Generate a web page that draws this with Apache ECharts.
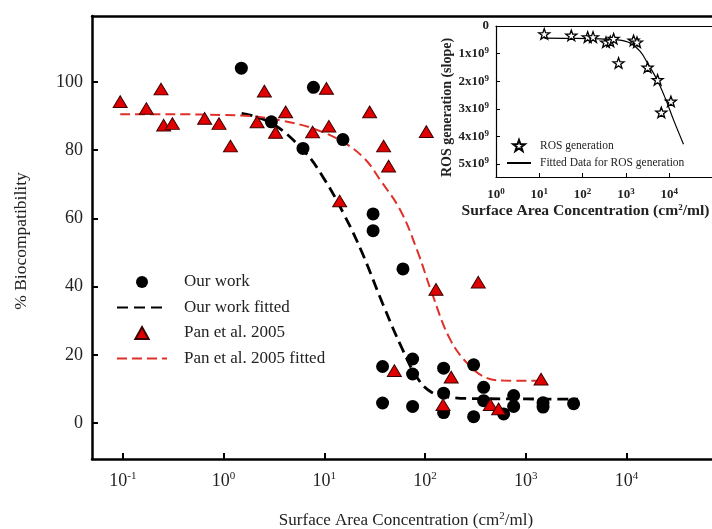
<!DOCTYPE html>
<html><head><meta charset="utf-8">
<script src="https://cdn.jsdelivr.net/npm/echarts@6/dist/echarts.min.js"></script>
<style>html,body{margin:0;padding:0;background:#fff}#c{width:712px;height:529px}</style>
</head><body><div id="c"></div>
<script>
// ---- Main chart data ----
const ourWorkX = [1.5, 7.8, 2.98, 6.14, 15.3, 30.5, 30.5, 60.4, 37.9, 75.3, 75.3, 153, 304, 37.9, 75.3, 153, 153, 304, 382, 382, 604, 759, 759, 1486, 1486, 2990];
const ourWorkY = [104.0, 98.4, 88.3, 80.5, 83.1, 61.3, 56.4, 45.2, 16.6, 18.8, 14.4, 16.1, 17.1, 5.9, 4.9, 8.8, 3.1, 1.9, 10.5, 6.6, 2.7, 8.1, 4.9, 6.0, 4.7, 5.7];

const panX = [0.094, 0.171, 0.239, 0.254, 0.31, 0.648, 0.9, 1.17, 2.54, 2.15, 3.28, 4.13, 7.65, 10.5, 11.1, 14.2, 28.2, 38.8, 43.5, 103, 128.5, 338, 49.6, 182, 151, 445, 538, 1420];
const panY = [94.2, 92.2, 97.9, 87.3, 87.8, 89.3, 87.8, 81.2, 97.3, 88.3, 85.2, 91.2, 85.3, 98.1, 87.0, 65.1, 91.2, 81.2, 75.3, 85.4, 39.2, 41.3, 15.4, 13.5, 5.4, 5.4, 4.2, 12.9];

const ourFitX = [1.51, 2.95, 6.17, 10, 15.8, 23.7, 38, 60, 85, 117, 178, 316, 1000, 3300];
const ourFitY = [90.8, 88.0, 80.0, 71.5, 61.0, 50.0, 35.0, 21.5, 13.0, 9.0, 7.6, 7.2, 7.1, 7.0];

const panFitX = [0.094, 0.316, 1.0, 2.15, 3.98, 7.83, 15.3, 25.1, 36, 56.9, 83.4, 117.5, 178.6, 282, 413, 603, 1396];
const panFitY = [90.5, 90.5, 90.3, 89.8, 88.5, 86.3, 82.4, 77.5, 71.2, 62.4, 50.7, 38.0, 24.4, 16.6, 13.2, 12.5, 12.4];

const mainXTicks = [0.1, 1, 10, 100, 1000, 10000];
const mainYTicks = [0, 20, 40, 60, 80, 100];

// ---- Inset data ----
const rosX = [13, 54.8, 131, 174, 347, 436, 520, 677, 1506, 1803, 3170, 5400, 10960, 6570];
const rosY = [0.29e9, 0.34e9, 0.40e9, 0.40e9, 0.59e9, 0.56e9, 0.46e9, 1.34e9, 0.52e9, 0.59e9, 1.5e9, 1.95e9, 2.73e9, 3.13e9];

const rosFitX = [13, 63, 251, 617, 1259, 2138, 3311, 5248, 8128, 12589, 21380];
const rosFitY = [0.44e9, 0.45e9, 0.47e9, 0.50e9, 0.62e9, 0.92e9, 1.4e9, 1.95e9, 2.62e9, 3.4e9, 4.28e9];

const insetXTicks = [1, 10, 100, 1000, 10000];
const insetYTicks = [0, 1e9, 2e9, 3e9, 4e9, 5e9];

const pairs = (xs, ys) => xs.map((x, i) => [x, ys[i]]);
const serif = "'Liberation Serif', 'Times New Roman', serif";
const expLabel = v => '{b|10}{s|' + Math.round(Math.log10(v)) + '}';
const triPath = 'path://M0,-10L10,8L-10,8Z';
const starPath = 'path://M0,-10L2.35,-3.24L9.51,-3.09L3.8,1.24L5.88,8.09L0,4L-5.88,8.09L-3.8,1.24L-9.51,-3.09L-2.35,-3.24Z';

const chart = echarts.init(document.getElementById('c'), null, { renderer: 'canvas' });
const mainMin = Math.pow(10, -1.307), mainMax = Math.pow(10, -1.307 + 620 / 100.7);
const insetMax = Math.pow(10, 216 / 43.3);

const hiddenAxis = { show: false };

chart.setOption({
  animation: false,
  backgroundColor: '#fff',
  grid: [
    { left: 92, top: 16, right: 0, height: 443, show: false, containLabel: false, outerBoundsMode: 'none' },
    { left: 496, top: 26, right: 0, height: 151, show: false, containLabel: false, outerBoundsMode: 'none' }
  ],
  xAxis: [
    {
      type: 'log', gridIndex: 0, min: mainMin, max: mainMax,
      name: '{n|Surface Area Concentration (cm}{s|2}{n|/ml)}',
      nameLocation: 'middle', nameGap: 52,
      nameTextStyle: { padding: [0, 0, 0, 8], rich: {
        n: { fontFamily: serif, fontSize: 17, color: '#222', lineHeight: 20 },
        s: { fontFamily: serif, fontSize: 11, color: '#222', verticalAlign: 'top', lineHeight: 10 } } },
      axisLine: { onZero: false, lineStyle: { color: '#000', width: 2.5 } },
      axisTick: { inside: true, length: 6, lineStyle: { color: '#000', width: 2 }, customValues: mainXTicks },
      axisLabel: { customValues: mainXTicks, margin: 12, formatter: expLabel, rich: {
        b: { fontFamily: serif, fontSize: 18, color: '#222', lineHeight: 20 },
        s: { fontFamily: serif, fontSize: 11, color: '#222', verticalAlign: 'top', lineHeight: 10 } } },
      splitLine: { show: false }, minorTick: { show: false }
    },
    {
      type: 'log', gridIndex: 1, min: 1, max: insetMax,
      name: 'Surface Area Concentration (cm{s|2}/ml)',
      nameLocation: 'middle', nameGap: 26,
      nameTextStyle: { fontFamily: serif, fontSize: 15.6, fontWeight: 'bold', color: '#222', padding: [0, 37, 0, 0],
        rich: { s: { fontFamily: serif, fontSize: 9, fontWeight: 'bold', color: '#222', verticalAlign: 'top', lineHeight: 8 } } },
      axisLine: { onZero: false, lineStyle: { color: '#000', width: 1.2 } },
      axisTick: { inside: true, length: 4, lineStyle: { color: '#000' }, customValues: insetXTicks },
      axisLabel: { customValues: insetXTicks, margin: 10, formatter: expLabel, rich: {
        b: { fontFamily: serif, fontSize: 13, fontWeight: 'bold', color: '#222', lineHeight: 15 },
        s: { fontFamily: serif, fontSize: 9, fontWeight: 'bold', color: '#222', verticalAlign: 'top', lineHeight: 8 } } },
      splitLine: { show: false }, minorTick: { show: false }
    },
    // top frame lines
    { type: 'log', gridIndex: 0, position: 'top', min: mainMin, max: mainMax,
      axisLine: { onZero: false, lineStyle: { color: '#000', width: 2.5 } },
      axisTick: hiddenAxis, axisLabel: hiddenAxis, splitLine: hiddenAxis },
    { type: 'log', gridIndex: 1, position: 'top', min: 1, max: insetMax,
      axisLine: { onZero: false, lineStyle: { color: '#000', width: 1.2 } },
      axisTick: hiddenAxis, axisLabel: hiddenAxis, splitLine: hiddenAxis }
  ],
  yAxis: [
    {
      type: 'value', gridIndex: 0, min: -10.5, max: 119.3,
      name: '% Biocompatibility', nameLocation: 'middle', nameGap: 62,
      nameTextStyle: { fontFamily: serif, fontSize: 17.5, color: '#222', padding: [0, 7, 0, 0] },
      axisLine: { onZero: false, lineStyle: { color: '#000', width: 2.5 } },
      axisTick: { inside: true, length: 6, lineStyle: { color: '#000', width: 2 }, customValues: mainYTicks },
      axisLabel: { customValues: mainYTicks, margin: 9, fontFamily: serif, fontSize: 18, color: '#222' },
      splitLine: { show: false }
    },
    {
      type: 'value', gridIndex: 1, min: 0, max: 5.47e9, inverse: true,
      name: 'ROS generation (slope)', nameLocation: 'middle', nameGap: 42,
      nameTextStyle: { fontFamily: serif, fontSize: 14, fontWeight: 'bold', color: '#222', padding: [0, 12, 0, 0] },
      axisLine: { onZero: false, lineStyle: { color: '#000', width: 1.2 } },
      axisTick: { inside: true, length: 4, lineStyle: { color: '#000' }, customValues: insetYTicks },
      axisLabel: { customValues: insetYTicks, margin: 7,
        formatter: v => v === 0 ? '{b|0}' : '{b|' + Math.round(v / 1e9) + 'x10}{s|9}',
        rich: {
          b: { fontFamily: serif, fontSize: 13, fontWeight: 'bold', color: '#222', lineHeight: 15 },
          s: { fontFamily: serif, fontSize: 9, fontWeight: 'bold', color: '#222', verticalAlign: 'top', lineHeight: 8 } } },
      splitLine: { show: false }
    }
  ],
  legend: [
    {
      data: [
        { name: 'Our work' },
        { name: 'Our work fitted', itemStyle: { opacity: 0 } },
        { name: 'Pan et al. 2005' },
        { name: 'Pan et al. 2005 fitted', itemStyle: { opacity: 0 } }
      ],
      orient: 'vertical', left: 111, top: 268.5, itemWidth: 50, itemHeight: 12, itemGap: 8.5,
      symbolKeepAspect: true,
      textStyle: { fontFamily: serif, fontSize: 17, color: '#222', padding: [0, 0, 0, 12] }
    },
    {
      data: [
        { name: 'ROS generation' },
        { name: 'Fitted Data for ROS generation', itemStyle: { opacity: 0 } }
      ],
      orient: 'vertical', left: 501, top: 134, itemWidth: 24, itemHeight: 11, itemGap: 5, z: 10,
      symbolKeepAspect: true,
      textStyle: { fontFamily: serif, fontSize: 11.5, color: '#222', padding: [0, 0, 0, 4] }
    }
  ],
  series: [
    { name: 'Our work fitted', type: 'line', xAxisIndex: 0, yAxisIndex: 0, data: pairs(ourFitX, ourFitY),
      smooth: 0.4, symbol: 'none', lineStyle: { color: '#000', width: 2.8, type: [11, 6] }, itemStyle: { color: '#000' }, z: 2 },
    { name: 'Pan et al. 2005 fitted', type: 'line', xAxisIndex: 0, yAxisIndex: 0, data: pairs(panFitX, panFitY),
      smooth: 0.4, symbol: 'none', lineStyle: { color: '#e0302a', width: 2, type: [10, 5] }, itemStyle: { color: '#e0302a' }, z: 2 },
    { name: 'Our work', type: 'scatter', xAxisIndex: 0, yAxisIndex: 0, data: pairs(ourWorkX, ourWorkY),
      symbol: 'circle', symbolSize: 13, itemStyle: { color: '#000', opacity: 1 }, z: 3 },
    { name: 'Pan et al. 2005', type: 'scatter', xAxisIndex: 0, yAxisIndex: 0, data: pairs(panX, panY),
      symbol: triPath, symbolKeepAspect: true, symbolSize: [14, 13],
      itemStyle: { color: '#e00000', borderColor: '#3a0000', borderWidth: 1, opacity: 1 }, z: 4 },
    { name: 'ROS generation', type: 'scatter', xAxisIndex: 1, yAxisIndex: 1, data: pairs(rosX, rosY),
      symbol: starPath, symbolKeepAspect: true, symbolSize: 11,
      itemStyle: { color: '#fff', borderColor: '#000', borderWidth: 1.3, opacity: 1 }, z: 8 },
    { name: 'Fitted Data for ROS generation', type: 'line', xAxisIndex: 1, yAxisIndex: 1, data: pairs(rosFitX, rosFitY),
      smooth: 0.4, symbol: 'none', lineStyle: { color: '#000', width: 1.2 }, itemStyle: { color: '#000' }, z: 7 }
  ]
});
</script>
</body></html>
